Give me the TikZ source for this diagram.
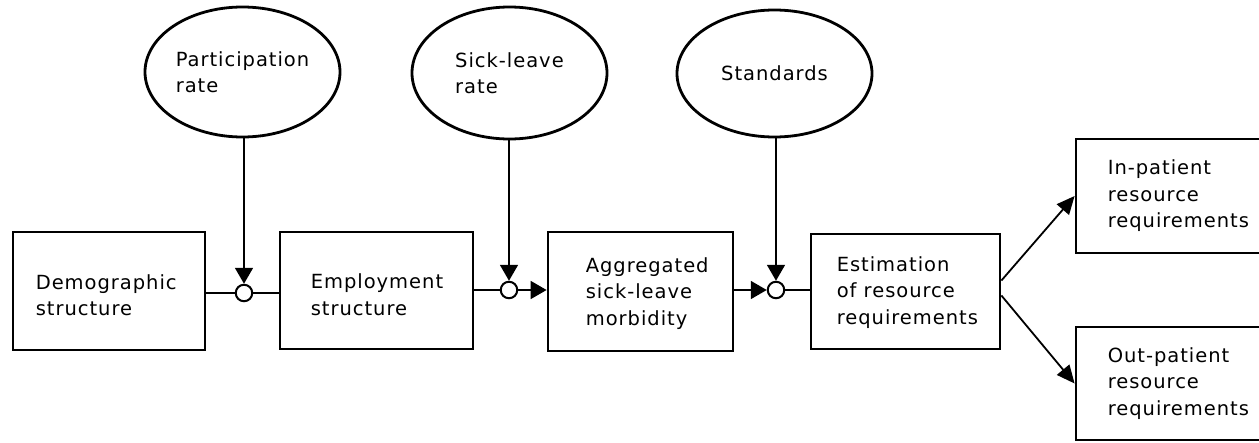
\documentclass[tikz,border=0pt]{standalone}
\usepackage{fontspec}
\setmainfont{DejaVu Sans}[LetterSpace=5]
\usetikzlibrary{shapes.geometric,arrows.meta}
\begin{document}
\begin{tikzpicture}[x=1pt,y=-1pt,
  txt/.style={font=\fontsize{19.5}{26.5}\selectfont},
  stagebox/.style={draw,line width=2.8pt,inner sep=0pt},
  lbl/.style={txt,align=left,inner sep=0pt,anchor=west},
  inputoval/.style={draw,ellipse,line width=2.8pt,inner sep=0pt,align=left,txt},
  junc/.style={draw,circle,line width=2pt,minimum size=16.5pt,inner sep=0pt,fill=white},
  conn/.style={line width=1.8pt},
  tip/.style={-{Triangle[length=16pt,width=18pt]}},
  diagtip/.style={-{Triangle[length=18pt,width=16pt]}}]
\useasboundingbox (0,0) rectangle (1259,442);
\clip (0,0) rectangle (1259,442);

% external inputs
\node[inputoval,minimum width=195pt,minimum height=130pt] (part) at (242.5,72) {Participation\\rate};
\node[inputoval,minimum width=195pt,minimum height=132pt] (sick) at (509.5,73) {Sick-leave\\rate};
\node[inputoval,minimum width=195pt,minimum height=127pt] (stand) at (774.5,73.5) {Standards};

% stage boxes
\node[stagebox,minimum width=192pt,minimum height=118pt] (demo) at (109,291) {};
\node[stagebox,minimum width=193pt,minimum height=117pt] (emp) at (376.5,290.5) {};
\node[stagebox,minimum width=185pt,minimum height=119pt] (agg) at (640.5,291.5) {};
\node[stagebox,minimum width=189pt,minimum height=115pt] (est) at (905.5,291.5) {};
\node[stagebox,minimum width=200pt,minimum height=114pt] (inp) at (1176,196) {};
\node[stagebox,minimum width=200pt,minimum height=113pt] (outp) at (1176,383.5) {};

% box labels
\node[lbl] (tdemo) at ([xshift=24pt,yshift=-4pt]demo.west) {Demographic\\structure};
\node[lbl] (temp) at ([xshift=32pt,yshift=-4pt]emp.west) {Employment\\structure};
\node[lbl] (tagg) at ([xshift=39pt,yshift=-2pt]agg.west) {Aggregated\\sick-leave\\morbidity};
\node[lbl] (test) at ([xshift=27pt,yshift=-1pt]est.west) {Estimation\\of resource\\requirements};
\node[lbl] (tinp) at ([xshift=33pt]inp.west) {In-patient\\resource\\requirements};
\node[lbl] (toutp) at ([xshift=33pt]outp.west) {Out-patient\\resource\\requirements};

% junctions
\node[junc] (j1) at (244,293) {};
\node[junc] (j2) at (509,290) {};
\node[junc] (j3) at (776,290) {};

% main flow
\draw[conn] (demo.east |- j1) -- (j1.west);
\draw[conn] (j1.east) -- (emp.west |- j1);
\draw[conn] (emp.east |- j2) -- (j2.west);
\draw[conn,tip] (j2.east) -- (agg.west |- j2);
\draw[conn,tip] (agg.east |- j3) -- (j3.west);
\draw[conn] (j3.east) -- (est.west |- j3);

% inputs into junctions
\draw[conn,tip] (part.south -| j1) -- (j1.north);
\draw[conn,tip] (sick.south -| j2) -- (j2.north);
\draw[conn,tip] (stand.south -| j3) -- (j3.north);

% outputs
\draw[conn,diagtip] ([yshift=11pt]est.east) -- (inp.west);
\draw[conn,diagtip] ([yshift=-4pt]est.east) -- (outp.west);
\end{tikzpicture}
\end{document}
